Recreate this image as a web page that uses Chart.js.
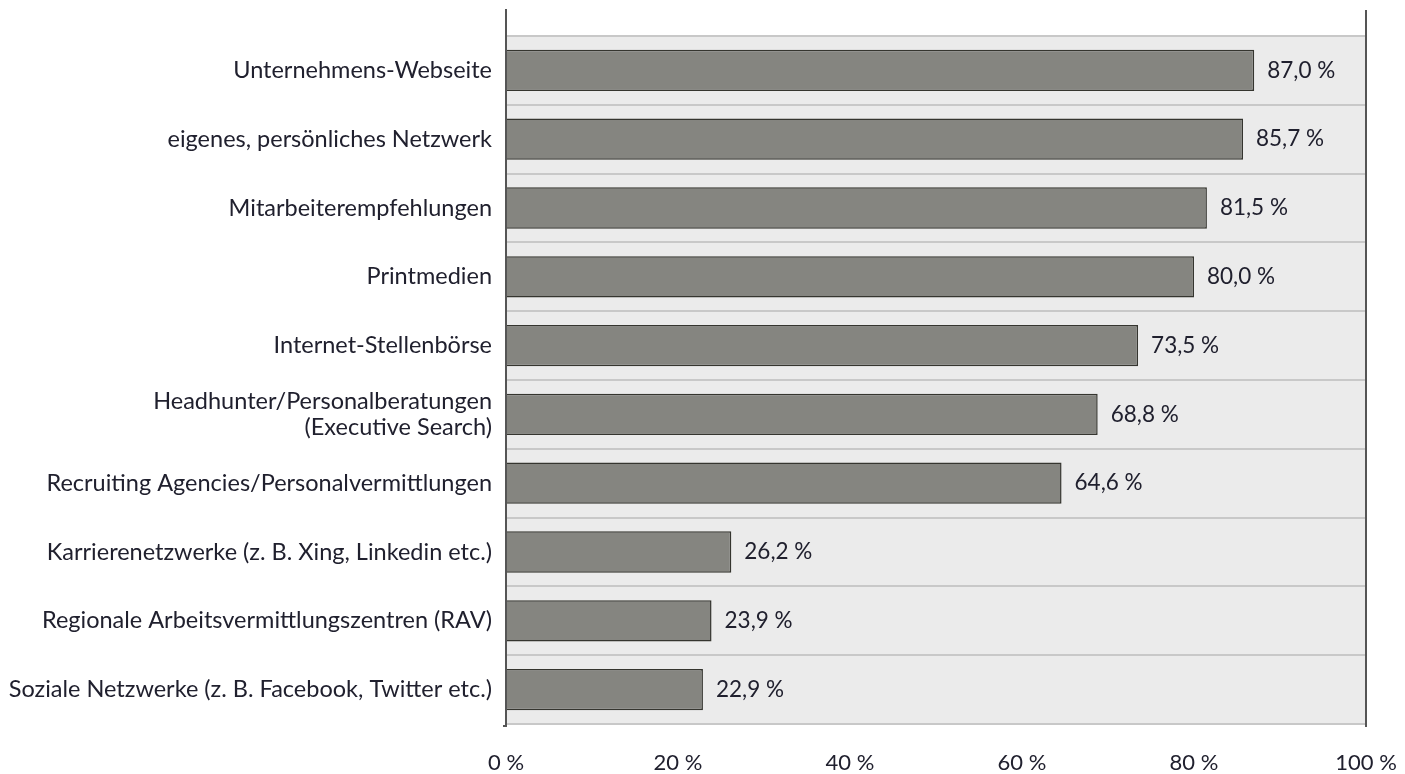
<!DOCTYPE html>
<html lang="de">
<head>
<meta charset="UTF-8">
<title>Rekrutierungskanäle</title>
<script src="https://cdn.jsdelivr.net/npm/chart.js"></script>
<style>
  html, body { margin: 0; padding: 0; background: #fff; }
  #wrap { width: 1405px; height: 774px; }
</style>
</head>
<body>
<div id="wrap"><canvas id="chart"></canvas></div>
<script>
const categories = [
  'Unternehmens-Webseite',
  'eigenes, persönliches Netzwerk',
  'Mitarbeiterempfehlungen',
  'Printmedien',
  'Internet-Stellenbörse',
  ['Headhunter/Personalberatungen', '(Executive Search)'],
  'Recruiting Agencies/Personalvermittlungen',
  'Karrierenetzwerke (z. B. Xing, Linkedin etc.)',
  'Regionale Arbeitsvermittlungszentren (RAV)',
  'Soziale Netzwerke (z. B. Facebook, Twitter etc.)'
];
const values = [87.0, 85.7, 81.5, 80.0, 73.5, 68.8, 64.6, 26.2, 23.9, 22.9];
const xTicks = [0, 20, 40, 60, 80, 100];

const FONT = 'Lato, "Open Sans", sans-serif';
const TEXT = '#20202e';

// plot background + the two vertical frame lines that run above the plot
const frame = {
  id: 'frame',
  beforeDraw(chart) {
    const { ctx, chartArea: a } = chart;
    ctx.save();
    ctx.fillStyle = '#ebebeb';
    ctx.fillRect(a.left, a.top, a.right - a.left, a.bottom - a.top);
    ctx.restore();
  },
  afterDatasetsDraw(chart) {
    const { ctx, chartArea: a } = chart;
    ctx.save();
    ctx.strokeStyle = '#555';
    ctx.lineWidth = 2;
    ctx.beginPath();
    ctx.moveTo(a.left, 9); ctx.lineTo(a.left, a.bottom + 3);
    ctx.moveTo(a.left - 3, a.bottom + 2); ctx.lineTo(a.left, a.bottom + 2);
    ctx.moveTo(a.right, 10); ctx.lineTo(a.right, a.bottom + 3);
    ctx.stroke();
    ctx.restore();
  }
};

// value labels right of each bar, German decimal comma
const valueLabels = {
  id: 'valueLabels',
  afterDatasetsDraw(chart) {
    const { ctx } = chart;
    const meta = chart.getDatasetMeta(0);
    ctx.save();
    ctx.font = '22.5px ' + FONT;
    ctx.fillStyle = TEXT;
    ctx.textAlign = 'left';
    ctx.textBaseline = 'middle';
    meta.data.forEach((bar, i) => {
      const txt = values[i].toFixed(1).replace('.', ',') + ' %';
      ctx.fillText(txt, bar.x + 13, bar.y);
    });
    ctx.restore();
  }
};

new Chart(document.getElementById('chart'), {
  type: 'bar',
  data: {
    labels: categories,
    datasets: [{
      data: values,
      backgroundColor: '#858580',
      borderColor: '#35352f',
      borderWidth: 1.5,
      barPercentage: 0.6,
      categoryPercentage: 1.0
    }]
  },
  options: {
    indexAxis: 'y',
    responsive: true,
    maintainAspectRatio: false,
    animation: false,
    layout: { padding: { top: 36, right: 39, left: 0, bottom: 0 } },
    plugins: { legend: { display: false }, tooltip: { enabled: false } },
    scales: {
      x: {
        min: 0, max: 100,
        afterBuildTicks(scale) { scale.ticks = xTicks.map(v => ({ value: v })); },
        afterFit(scale) { scale.height = 50; scale.paddingLeft = 0; scale.paddingRight = 0; },
        grid: { display: false, drawTicks: false },
        border: { display: false },
        ticks: {
          padding: 26,
          color: TEXT,
          font: { family: FONT, size: 22 },
          callback: v => v + ' %'
        }
      },
      y: {
        afterFit(scale) { scale.width = 506; },
        grid: { color: '#c8c8c8', lineWidth: 2, drawTicks: false, offset: true },
        border: { display: false },
        ticks: {
          padding: 14,
          color: TEXT,
          font: { family: FONT, size: 23.5, lineHeight: 1.1 }
        }
      }
    }
  },
  plugins: [frame, valueLabels]
});
</script>
</body>
</html>
